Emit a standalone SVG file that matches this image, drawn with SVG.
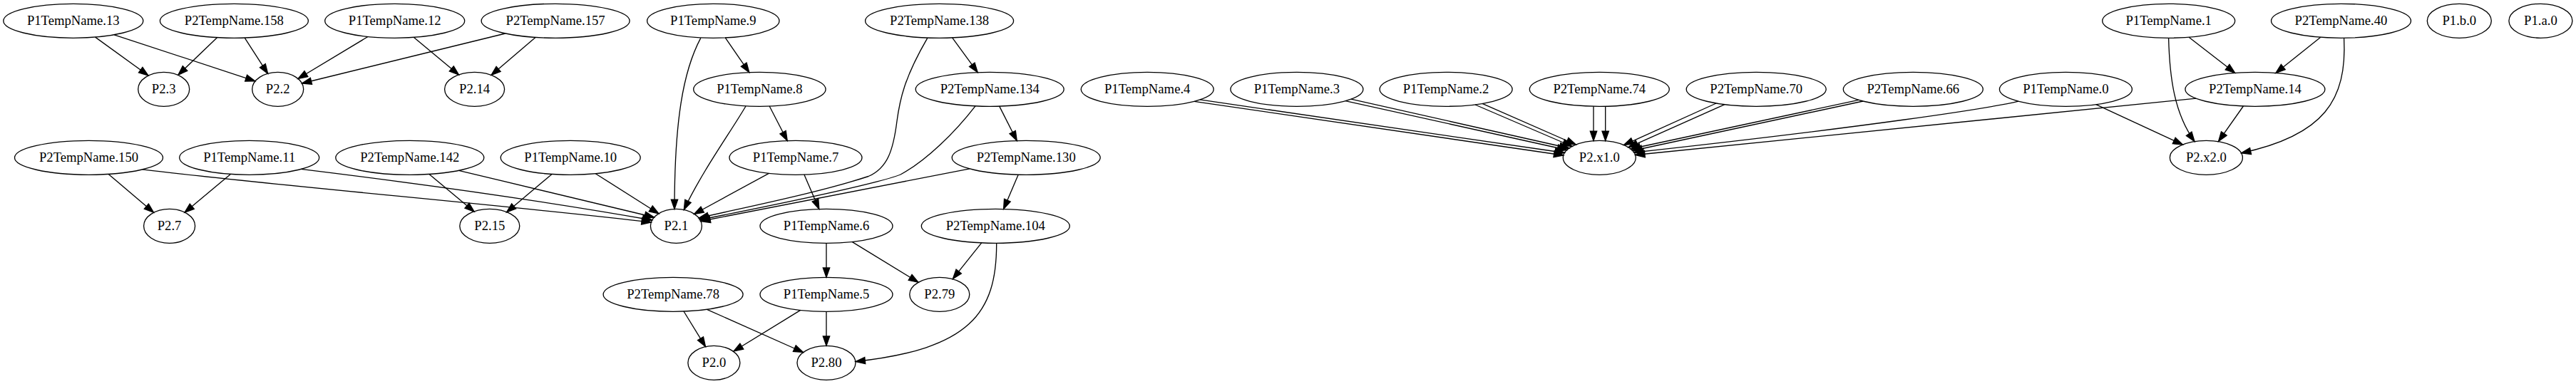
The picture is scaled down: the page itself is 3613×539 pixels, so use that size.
<svg xmlns="http://www.w3.org/2000/svg" width="3613" height="539" viewBox="0 0 3613 539">
<style>
.node ellipse{fill:none;stroke:#000;stroke-width:1.33}
.node text{font-family:"Liberation Serif","Times New Roman",serif;font-size:18.67px;text-anchor:middle;fill:#000}
#edges path{fill:none;stroke:#000;stroke-width:1.33;marker-end:url(#ah)}
</style>
<defs>
<marker id="ah" markerUnits="userSpaceOnUse" markerWidth="16" markerHeight="12" viewBox="0 0 16 12" refX="14" refY="6" orient="auto" overflow="visible">
<path d="M0.67,1.33 L14,6 L0.67,10.67 Z" fill="#000" stroke="#000" stroke-width="1.33"/>
</marker>
</defs>
<rect width="3613" height="539" fill="#fff"/>
<g id="edges">
<path d="M133.6,52.1 L208,106"/>
<path d="M160.1,48.8 L357.8,113.8"/>
<path d="M304.5,52.7 L249.9,105.2"/>
<path d="M343.2,53.1 L375.6,103.4"/>
<path d="M516,51.5 L418,110.5"/>
<path d="M708.7,47 L423.5,117"/>
<path d="M580.5,52.4 L643.5,105"/>
<path d="M751,52.4 L689,105.5"/>
<path d="M1017.2,52.9 L1050.8,101.6"/>
<path d="M982.8,53.4 C958,100 946,170 946,293.4"/>
<path d="M1046,149 C1025,185 985,240 959.3,294.4"/>
<path d="M1079.2,149 L1104.2,197.5"/>
<path d="M1335.6,52.9 L1371.2,101.6"/>
<path d="M1300.8,53.4 C1268,110 1262,140 1258,170 C1253,210 1245,236 1218,247.5 C1150,270 1050,290 980.2,306"/>
<path d="M1401.7,149.1 L1426.2,197.5"/>
<path d="M1368,148.8 C1340,185 1300,225 1263,245 C1230,258 1100,285 981.5,308.5"/>
<path d="M1360,236.8 L982.9,310.5"/>
<path d="M1428.2,245.2 L1407.6,293.4"/>
<path d="M152.2,244.4 L215.5,298.3"/>
<path d="M199.7,237.9 C400,262 700,287 913.3,312"/>
<path d="M323.4,244.4 L259,298.3"/>
<path d="M422.3,237.4 C550,253 750,280 914.6,309"/>
<path d="M602,244.5 L665.2,297.2"/>
<path d="M643.5,239.3 L917.5,305"/>
<path d="M774,244.4 L710.5,298"/>
<path d="M835.3,243.7 L924,300"/>
<path d="M1078.4,243.3 L973.5,300.5"/>
<path d="M1127.9,245.1 L1148.8,293.4"/>
<path d="M1159,341.3 L1159,389.3"/>
<path d="M1195,339.4 L1288,396.3"/>
<path d="M1376.7,340.9 L1336.4,391.4"/>
<path d="M1397.7,341.3 C1398,440 1360,490 1200,507.5"/>
<path d="M959,437 L989.5,486.6"/>
<path d="M991.5,434.3 L1126.5,494.5"/>
<path d="M1122.7,435.4 L1029,493"/>
<path d="M1159,437.3 L1159,485.3"/>
<path d="M1683,139.9 L2194.4,214.5"/>
<path d="M1675,142.3 L2192.8,218"/>
<path d="M1895,139.1 L2200.9,208"/>
<path d="M1887,141.6 L2197.8,210.5"/>
<path d="M2079,145.4 L2210.3,203"/>
<path d="M2069,147 L2205,205.5"/>
<path d="M2235,149.2 L2235,197.6"/>
<path d="M2251.7,149.2 L2251.7,197.6"/>
<path d="M2407,145 L2277.5,203.5"/>
<path d="M2419,146.7 L2284,206.8"/>
<path d="M2606.7,140.3 L2287.1,209"/>
<path d="M2613,142 L2289.8,211.5"/>
<path d="M2831,142.1 C2790,152 2620,178 2291.9,214"/>
<path d="M2939.7,146.7 L3061.3,203"/>
<path d="M3080,138.1 L2293.6,217.5"/>
<path d="M3070.1,52.2 L3134.6,102.3"/>
<path d="M3254.8,52.2 L3191.9,102.4"/>
<path d="M3041.6,53.3 C3043,110 3050,160 3078,198.5"/>
<path d="M3287.6,53.3 C3292,140 3260,190 3143.5,214.8"/>
<path d="M3146.4,149 L3111.6,198.3"/>
</g>
<g id="n_P1TempName_13" class="node"><ellipse cx="102.8" cy="29.3" rx="98" ry="24"/><text x="102.8" y="35.3">P1TempName.13</text></g>
<g id="n_P2TempName_158" class="node"><ellipse cx="328.4" cy="29.3" rx="104" ry="24"/><text x="328.4" y="35.3">P2TempName.158</text></g>
<g id="n_P1TempName_12" class="node"><ellipse cx="553.7" cy="29.3" rx="98" ry="24"/><text x="553.7" y="35.3">P1TempName.12</text></g>
<g id="n_P2TempName_157" class="node"><ellipse cx="779.1" cy="29.3" rx="104" ry="24"/><text x="779.1" y="35.3">P2TempName.157</text></g>
<g id="n_P1TempName_9" class="node"><ellipse cx="1000.3" cy="29.3" rx="92.7" ry="24"/><text x="1000.3" y="35.3">P1TempName.9</text></g>
<g id="n_P2TempName_138" class="node"><ellipse cx="1317.6" cy="29.3" rx="104" ry="24"/><text x="1317.6" y="35.3">P2TempName.138</text></g>
<g id="n_P1TempName_1" class="node"><ellipse cx="3041.7" cy="29.3" rx="93" ry="24"/><text x="3041.7" y="35.3">P1TempName.1</text></g>
<g id="n_P2TempName_40" class="node"><ellipse cx="3283.5" cy="29.3" rx="98" ry="24"/><text x="3283.5" y="35.3">P2TempName.40</text></g>
<g id="n_P1_b_0" class="node"><ellipse cx="3449.3" cy="29.3" rx="45" ry="24"/><text x="3449.3" y="35.3">P1.b.0</text></g>
<g id="n_P1_a_0" class="node"><ellipse cx="3563.4" cy="29.3" rx="44.5" ry="24"/><text x="3563.4" y="35.3">P1.a.0</text></g>
<g id="n_P2_3" class="node"><ellipse cx="229.7" cy="125.3" rx="36" ry="24"/><text x="229.7" y="131.3">P2.3</text></g>
<g id="n_P2_2" class="node"><ellipse cx="389.7" cy="125.3" rx="36" ry="24"/><text x="389.7" y="131.3">P2.2</text></g>
<g id="n_P2_14" class="node"><ellipse cx="665.6" cy="125.3" rx="42" ry="24"/><text x="665.6" y="131.3">P2.14</text></g>
<g id="n_P1TempName_8" class="node"><ellipse cx="1065.4" cy="125.3" rx="92.7" ry="24"/><text x="1065.4" y="131.3">P1TempName.8</text></g>
<g id="n_P2TempName_134" class="node"><ellipse cx="1388.2" cy="125.3" rx="104" ry="24"/><text x="1388.2" y="131.3">P2TempName.134</text></g>
<g id="n_P1TempName_4" class="node"><ellipse cx="1609.2" cy="125.3" rx="93" ry="24"/><text x="1609.2" y="131.3">P1TempName.4</text></g>
<g id="n_P1TempName_3" class="node"><ellipse cx="1818.9" cy="125.3" rx="93" ry="24"/><text x="1818.9" y="131.3">P1TempName.3</text></g>
<g id="n_P1TempName_2" class="node"><ellipse cx="2028.1" cy="125.3" rx="93" ry="24"/><text x="2028.1" y="131.3">P1TempName.2</text></g>
<g id="n_P2TempName_74" class="node"><ellipse cx="2243.3" cy="125.3" rx="98" ry="24"/><text x="2243.3" y="131.3">P2TempName.74</text></g>
<g id="n_P2TempName_70" class="node"><ellipse cx="2463.2" cy="125.3" rx="98" ry="24"/><text x="2463.2" y="131.3">P2TempName.70</text></g>
<g id="n_P2TempName_66" class="node"><ellipse cx="2683.3" cy="125.3" rx="98" ry="24"/><text x="2683.3" y="131.3">P2TempName.66</text></g>
<g id="n_P1TempName_0" class="node"><ellipse cx="2897.4" cy="125.3" rx="93" ry="24"/><text x="2897.4" y="131.3">P1TempName.0</text></g>
<g id="n_P2TempName_14" class="node"><ellipse cx="3162.9" cy="125.3" rx="98" ry="24"/><text x="3162.9" y="131.3">P2TempName.14</text></g>
<g id="n_P2TempName_150" class="node"><ellipse cx="124.5" cy="221.3" rx="104" ry="24"/><text x="124.5" y="227.3">P2TempName.150</text></g>
<g id="n_P1TempName_11" class="node"><ellipse cx="349.7" cy="221.3" rx="98" ry="24"/><text x="349.7" y="227.3">P1TempName.11</text></g>
<g id="n_P2TempName_142" class="node"><ellipse cx="574.8" cy="221.3" rx="104" ry="24"/><text x="574.8" y="227.3">P2TempName.142</text></g>
<g id="n_P1TempName_10" class="node"><ellipse cx="800.2" cy="221.3" rx="98" ry="24"/><text x="800.2" y="227.3">P1TempName.10</text></g>
<g id="n_P1TempName_7" class="node"><ellipse cx="1116" cy="221.3" rx="93" ry="24"/><text x="1116" y="227.3">P1TempName.7</text></g>
<g id="n_P2TempName_130" class="node"><ellipse cx="1439.2" cy="221.3" rx="104" ry="24"/><text x="1439.2" y="227.3">P2TempName.130</text></g>
<g id="n_P2_x1_0" class="node"><ellipse cx="2243.3" cy="221.3" rx="51" ry="24"/><text x="2243.3" y="227.3">P2.x1.0</text></g>
<g id="n_P2_x2_0" class="node"><ellipse cx="3094.4" cy="221.3" rx="51" ry="24"/><text x="3094.4" y="227.3">P2.x2.0</text></g>
<g id="n_P2_7" class="node"><ellipse cx="237.6" cy="317.3" rx="36" ry="24"/><text x="237.6" y="323.3">P2.7</text></g>
<g id="n_P2_15" class="node"><ellipse cx="686.8" cy="317.3" rx="42" ry="24"/><text x="686.8" y="323.3">P2.15</text></g>
<g id="n_P2_1" class="node"><ellipse cx="948.4" cy="317.3" rx="36" ry="24"/><text x="948.4" y="323.3">P2.1</text></g>
<g id="n_P1TempName_6" class="node"><ellipse cx="1159" cy="317.3" rx="93" ry="24"/><text x="1159" y="323.3">P1TempName.6</text></g>
<g id="n_P2TempName_104" class="node"><ellipse cx="1396.3" cy="317.3" rx="104" ry="24"/><text x="1396.3" y="323.3">P2TempName.104</text></g>
<g id="n_P2TempName_78" class="node"><ellipse cx="944.1" cy="413.3" rx="98" ry="24"/><text x="944.1" y="419.3">P2TempName.78</text></g>
<g id="n_P1TempName_5" class="node"><ellipse cx="1159" cy="413.3" rx="93" ry="24"/><text x="1159" y="419.3">P1TempName.5</text></g>
<g id="n_P2_79" class="node"><ellipse cx="1317.8" cy="413.3" rx="42" ry="24"/><text x="1317.8" y="419.3">P2.79</text></g>
<g id="n_P2_0" class="node"><ellipse cx="1001.4" cy="509.3" rx="36.5" ry="24"/><text x="1001.4" y="515.3">P2.0</text></g>
<g id="n_P2_80" class="node"><ellipse cx="1159" cy="509.3" rx="41" ry="24"/><text x="1159" y="515.3">P2.80</text></g>
</svg>
